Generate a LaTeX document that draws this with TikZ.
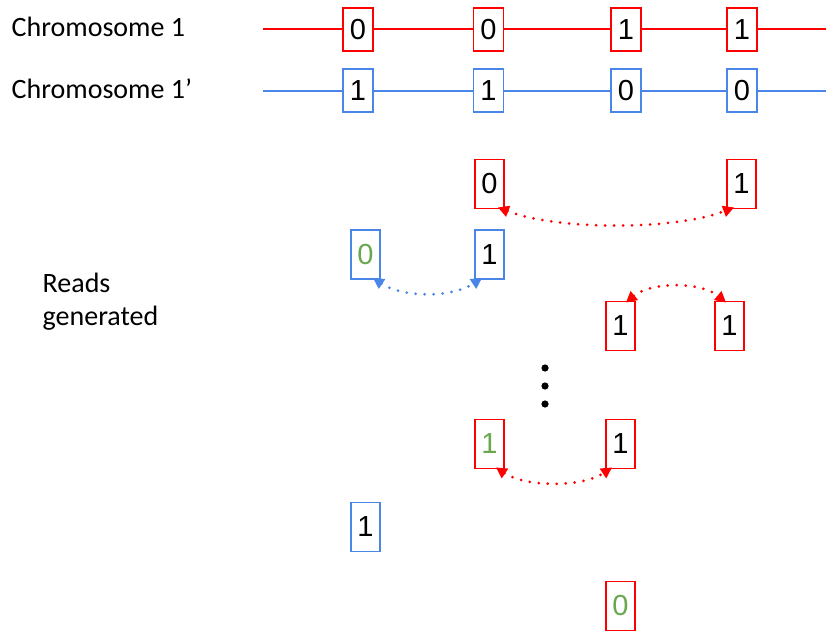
\documentclass[tikz,border=0pt]{standalone}
\usepackage{fontspec}
\setmainfont{Carlito}
\newfontfamily\digitfont{Liberation Sans}
\usetikzlibrary{arrows.meta}
\definecolor{gred}{RGB}{255,0,0}
\definecolor{gblue}{RGB}{74,134,232}
\definecolor{ggreen}{RGB}{106,168,79}
\begin{document}
\begin{tikzpicture}[x=1pt,y=-1pt,
  lbl/.style={anchor=base west,inner sep=0,font=\fontsize{28}{33.5}\selectfont},
  bit/.style={draw,fill=white,line width=1.8pt,inner sep=0,minimum width=29pt,minimum height=49pt,font=\digitfont\fontsize{29}{33}\selectfont,text=black},
  topbit/.style={bit,minimum width=30pt,minimum height=43pt},
  rbit/.style={bit,draw=gred},
  bbit/.style={bit,draw=gblue},
  chrom/.style={line width=1.8pt},
  pair/.style={line width=3pt,dash pattern=on 0pt off 9pt,line cap=round,
    {Triangle[length=11pt,width=11pt]}-{Triangle[length=11pt,width=11pt]}},
]
\useasboundingbox (0,0) rectangle (826,631);
% labels
\node[lbl] (c1) at (11.5,36.7) {Chromosome 1};
\node[lbl] (c2) at (11.5,98.3) {Chromosome 1’};
\node[lbl] (rg1) at (42.5,292.3) {Reads};
\node[lbl] (rg2) at (42.5,325.7) {generated};
% chromosome lines
\coordinate (rl) at (263,29.3);
\coordinate (rr) at (826,29.3);
\coordinate (bl) at (263,90.7);
\coordinate (br) at (826,90.7);
\draw[chrom,draw=gred] (rl) -- (rr);
\draw[chrom,draw=gblue] (bl) -- (br);
% chromosome sites
\node[topbit,draw=gred] (r1) at (358,29.3) {0};
\node[topbit,draw=gred] (r2) at (488.5,29.3) {0};
\node[topbit,draw=gred] (r3) at (626,29.3) {1};
\node[topbit,draw=gred] (r4) at (742,29.3) {1};
\node[topbit,draw=gblue] (b1) at (358,90.7) {1};
\node[topbit,draw=gblue] (b2) at (488.5,90.7) {1};
\node[topbit,draw=gblue] (b3) at (626,90.7) {0};
\node[topbit,draw=gblue] (b4) at (742,90.7) {0};
% reads
\node[rbit] (a1) at (489.5,184) {0};
\node[rbit] (a2) at (741.5,184) {1};
\node[bbit] (d1) at (365.5,254.5) {\textcolor{ggreen}{0}};
\node[bbit] (d2) at (489.5,254.5) {1};
\node[rbit] (e1) at (620.5,326) {1};
\node[rbit] (e2) at (729.5,326) {1};
\node[rbit] (f1) at (489.5,444) {\textcolor{ggreen}{1}};
\node[rbit] (f2) at (620.5,444) {1};
\node[bbit] (g1) at (365.5,527) {1};
\node[rbit] (h1) at (620.5,606) {\textcolor{ggreen}{0}};
% ellipsis
\fill (545,368) circle (3.6pt) (545,386) circle (3.6pt) (545,404) circle (3.6pt);
% pair links
\draw[pair,draw=gred] ([xshift=-7pt,yshift=2pt]a1.south east) .. controls +(60,23) and +(-60,23) .. ([xshift=8pt,yshift=2pt]a2.south west);
\draw[pair,draw=gblue] ([xshift=-8pt,yshift=2pt]d1.south east) .. controls +(30,20) and +(-30,20) .. ([xshift=8pt,yshift=2pt]d2.south west);
\draw[pair,draw=gred] ([xshift=-10pt,yshift=-2pt]e1.north east) .. controls +(25,-21) and +(-25,-21) .. ([xshift=12pt,yshift=-2pt]e2.north west);
\draw[pair,draw=gred] ([xshift=-9pt,yshift=2pt]f1.south east) .. controls +(30,20) and +(-30,20) .. ([xshift=7pt,yshift=2pt]f2.south west);
\end{tikzpicture}
\end{document}
